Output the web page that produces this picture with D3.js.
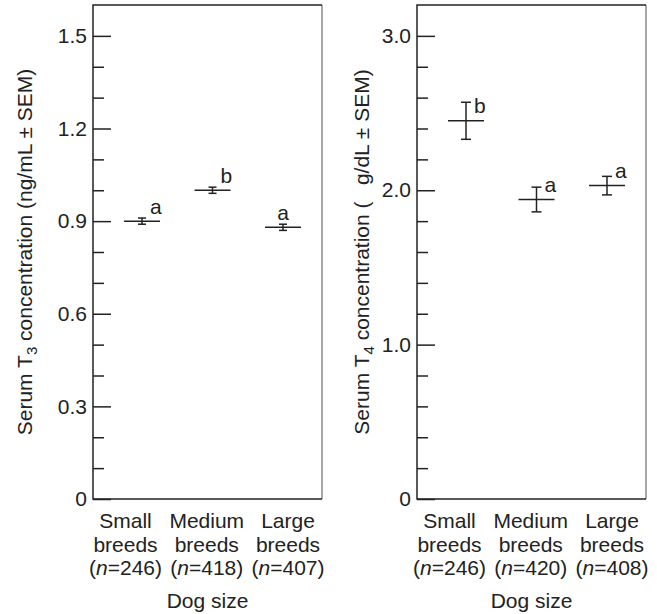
<!DOCTYPE html>
<html>
<head>
<meta charset="utf-8">
<script src="https://cdn.jsdelivr.net/npm/d3@7"></script>
<style>
  body { margin: 0; background: #fff; }
  text { font-family: "Liberation Sans", Arial, sans-serif; fill: #222; }
</style>
</head>
<body>
<div id="chart-area"></div>
<script>
// data
const categories = ["Small breeds", "Medium breeds", "Large breeds"];
const t3N = [246, 418, 407];
const t3Mean = [0.90, 1.00, 0.88];
const t3Sem = [0.01, 0.01, 0.01];
const t3Letters = ["a", "b", "a"];
const t3Major = [0, 0.3, 0.6, 0.9, 1.2, 1.5];

const t4N = [246, 420, 408];
const t4Mean = [2.45, 1.94, 2.03];
const t4Sem = [0.12, 0.08, 0.06];
const t4Letters = ["b", "a", "a"];
const t4Major = [0, 1.0, 2.0, 3.0];

const W = 657, H = 614;
const frameW = 229, frameTop = 5, frameBottom = 499;
const fs = 21;

let svg = d3.select("#chart-area").append("svg")
  .attr("width", W)
  .attr("height", H);

function drawPanel(opts) {
  let g = svg.append("g").attr("transform", `translate(${opts.left}, 0)`);

  let y = d3.scaleLinear().domain([0, opts.yMax]).range([frameBottom, frameTop]);
  let x = d3.scalePoint().domain(categories).range([49, 190]);
  let xLab = d3.scalePoint().domain(categories).range([32.5, 195]);

  // frame
  g.append("line").attr("x1", frameW).attr("x2", frameW)
    .attr("y1", frameTop).attr("y2", frameBottom)
    .attr("stroke", "#8a8a8a").attr("stroke-width", 1.5);
  g.append("path")
    .attr("d", `M${frameW},${frameTop}H0V${frameBottom}H${frameW}`)
    .attr("fill", "none").attr("stroke", "#222").attr("stroke-width", 1.5);

  // minor ticks
  let minor = d3.range(0, opts.yMax + 1e-9, opts.minorStep)
    .filter(v => !opts.major.some(m => Math.abs(m - v) < 1e-6) && v < opts.yMax - 1e-6);
  g.append("g")
    .call(d3.axisRight(y).tickValues(minor).tickSize(11).tickFormat(""))
    .call(a => a.select(".domain").remove())
    .selectAll("line").attr("stroke", "#222").attr("stroke-width", 1.5);

  // major ticks + labels
  let majorAxis = g.append("g")
    .call(d3.axisRight(y).tickValues(opts.major).tickSize(18).tickFormat(opts.fmt))
    .call(a => a.select(".domain").remove());
  majorAxis.selectAll("line").attr("stroke", "#222").attr("stroke-width", 1.5);
  majorAxis.selectAll("text")
    .attr("x", -6)
    .attr("text-anchor", "end")
    .attr("font-size", fs)
    .attr("fill", "#222")
    .style("font-family", "'Liberation Sans', Arial, sans-serif");

  // error bars
  let pts = categories.map((c, i) => ({ c: c, m: opts.mean[i], s: opts.sem[i], l: opts.letters[i], i: i }));
  let eb = g.selectAll(".pt").data(pts).enter().append("g").attr("class", "pt");
  eb.append("line")
    .attr("x1", d => x(d.c) - 18).attr("x2", d => x(d.c) + 18)
    .attr("y1", d => y(d.m)).attr("y2", d => y(d.m));
  eb.append("line")
    .attr("x1", d => x(d.c)).attr("x2", d => x(d.c))
    .attr("y1", d => y(d.m - d.s)).attr("y2", d => y(d.m + d.s));
  eb.append("line")
    .attr("x1", d => x(d.c) - opts.cap).attr("x2", d => x(d.c) + opts.cap)
    .attr("y1", d => y(d.m + d.s)).attr("y2", d => y(d.m + d.s));
  eb.append("line")
    .attr("x1", d => x(d.c) - opts.cap).attr("x2", d => x(d.c) + opts.cap)
    .attr("y1", d => y(d.m - d.s)).attr("y2", d => y(d.m - d.s));
  eb.selectAll("line").attr("stroke", "#222").attr("stroke-width", 1.5);

  eb.append("text")
    .attr("x", d => x(d.c) + (opts.letterMid[d.i] ? 0 : 8))
    .attr("y", d => y(d.m) - 7.5)
    .attr("text-anchor", d => opts.letterMid[d.i] ? "middle" : "start")
    .attr("font-size", fs)
    .text(d => d.l);

  // category labels
  let cl = g.selectAll(".cat").data(categories).enter().append("text")
    .attr("class", "cat")
    .attr("text-anchor", "middle")
    .attr("font-size", fs)
    .attr("transform", d => `translate(${xLab(d)}, 0)`);
  cl.append("tspan").attr("x", 0).attr("y", 528).text(d => d.split(" ")[0]);
  cl.append("tspan").attr("x", 0).attr("y", 552).text(d => d.split(" ")[1]);
  cl.append("tspan").attr("x", 0).attr("y", 575).text("(");
  cl.append("tspan").attr("font-style", "italic").text("n");
  cl.append("tspan").text((d, i) => `=${opts.n[i]})`);

  g.append("text")
    .attr("x", frameW / 2).attr("y", 608)
    .attr("text-anchor", "middle")
    .attr("font-size", fs)
    .text("Dog size");

  // y title
  let yt = g.append("text")
    .attr("transform", `translate(${opts.titleX}, ${(frameTop + frameBottom) / 2}) rotate(-90)`)
    .attr("text-anchor", "middle")
    .attr("font-size", fs);
  yt.append("tspan").text("Serum T");
  yt.append("tspan").attr("font-size", 15).attr("dy", 5).text(opts.sub);
  yt.append("tspan").attr("dy", -5).text(opts.titleRest);
}

drawPanel({
  left: 93, yMax: 1.6, minorStep: 0.1, major: t3Major,
  fmt: d => d === 0 ? "0" : d3.format(".1f")(d),
  mean: t3Mean, sem: t3Sem, letters: t3Letters, n: t3N, cap: 4,
  letterMid: [false, false, true],
  titleX: -61, sub: "3", titleRest: " concentration (ng/mL \u00b1 SEM)"
});

drawPanel({
  left: 417, yMax: 3.2, minorStep: 0.2, major: t4Major,
  fmt: d => d === 0 ? "0" : d3.format(".1f")(d),
  mean: t4Mean, sem: t4Sem, letters: t4Letters, n: t4N, cap: 5,
  letterMid: [false, false, false],
  titleX: -48, sub: "4", titleRest: " concentration (\u2002 g/dL \u00b1 SEM)"
});
</script>
</body>
</html>
